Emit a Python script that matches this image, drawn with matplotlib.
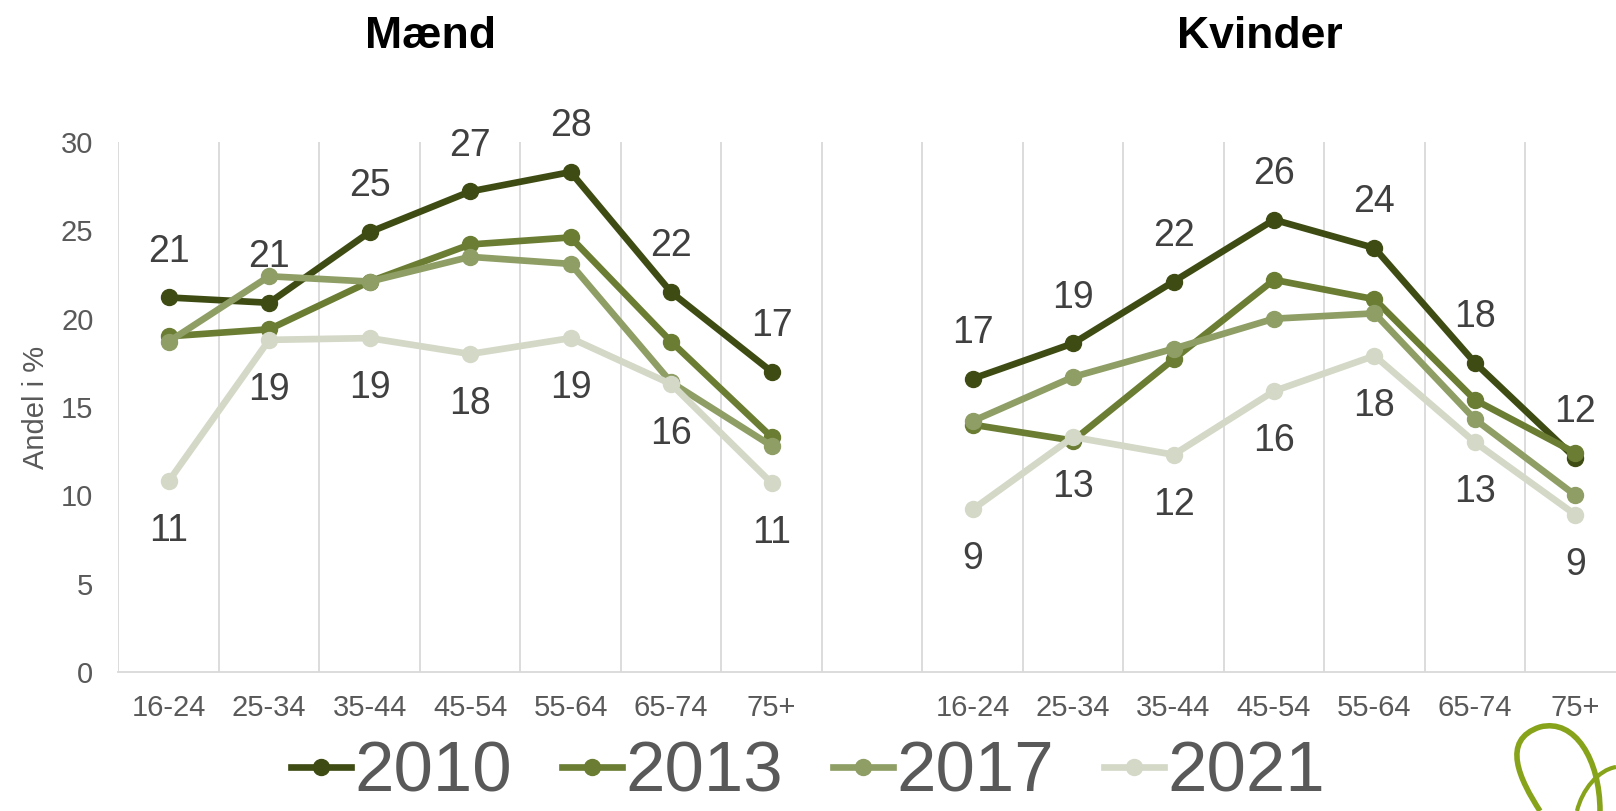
import matplotlib
matplotlib.use("Agg")
import matplotlib.pyplot as plt
from matplotlib.lines import Line2D
from matplotlib.patches import PathPatch
from matplotlib.path import Path
import numpy as np

plt.rcParams['font.family'] = ['Liberation Sans', 'DejaVu Sans']

age_groups = ['16-24', '25-34', '35-44', '45-54', '55-64', '65-74', '75+']
years = ['2010', '2013', '2017', '2021']
colors = ['#3e4c14', '#6a7d32', '#8e9e65', '#d3d8c7']

maend = {
    '2010': [21.2, 20.9, 24.9, 27.2, 28.3, 21.5, 17.0],
    '2013': [19.0, 19.4, 22.1, 24.2, 24.6, 18.7, 13.3],
    '2017': [18.7, 22.4, 22.1, 23.5, 23.1, 16.4, 12.8],
    '2021': [10.8, 18.8, 18.9, 18.0, 18.9, 16.3, 10.7],
}
kvinder = {
    '2010': [16.6, 18.6, 22.1, 25.6, 24.0, 17.5, 12.1],
    '2013': [14.0, 13.1, 17.7, 22.2, 21.1, 15.4, 12.4],
    '2017': [14.2, 16.7, 18.3, 20.0, 20.3, 14.3, 10.0],
    '2021': [9.2, 13.3, 12.3, 15.9, 17.9, 13.0, 8.9],
}
labelled_above = '2010'
labelled_below = '2021'

fig = plt.figure(figsize=(16.16, 8.11), dpi=100)
ax = fig.add_axes([0.0733, 0.1714, 0.9327, 0.6535])

n = len(age_groups)
x_m = np.arange(n)
x_k = np.arange(n) + n + 1

for year, col in zip(years, colors):
    for xs, data in ((x_m, maend), (x_k, kvinder)):
        ax.plot(xs, data[year], color=col, lw=4.8, marker='o', ms=11.5,
                solid_capstyle='round', zorder=3)

for xs, data in ((x_m, maend), (x_k, kvinder)):
    for x, v in zip(xs, data[labelled_above]):
        ax.annotate(f'{round(v):d}', (x, v), xytext=(0, 33), textcoords='offset points',
                    ha='center', va='center', fontsize=27, color='#404040')
    for x, v in zip(xs, data[labelled_below]):
        ax.annotate(f'{round(v):d}', (x, v), xytext=(0, -36), textcoords='offset points',
                    ha='center', va='center', fontsize=27, color='#404040')

ax.set_xlim(-0.5, 2 * n + 0.5)
ax.set_ylim(0, 30)
ax.set_yticks(range(0, 31, 5))
ax.set_xticks(list(x_m) + list(x_k))
ax.set_xticklabels(age_groups + age_groups)
ax.set_xticks(np.arange(-0.5, 2 * n + 1, 1), minor=True)
ax.grid(True, which='minor', axis='x', color='#d9d9d9', lw=1.3)
ax.tick_params(axis='both', which='both', length=0, colors='#595959', labelsize=21)
ax.tick_params(axis='x', pad=16)
ax.tick_params(axis='y', pad=18)
for s in ['top', 'right', 'left']:
    ax.spines[s].set_visible(False)
ax.spines['bottom'].set_color('#d9d9d9')
ax.spines['bottom'].set_linewidth(1.3)
ax.set_ylabel('Andel i %', fontsize=21, color='#595959', labelpad=8)

fig.text(431 / 1616, 1 - 36 / 811, 'Mænd', ha='center', va='center', fontsize=32,
         fontweight='bold')
fig.text(1260 / 1616, 1 - 36 / 811, 'Kvinder', ha='center', va='center', fontsize=32,
         fontweight='bold')

handles = [Line2D([], [], color=c, lw=4.8, marker='o', ms=11.5) for c in colors]
leg = fig.legend(handles, years, loc='center', bbox_to_anchor=(0.5, 0.046), ncol=4,
                 frameon=False, handlelength=0.85, handletextpad=0.05, columnspacing=0.7,
                 borderpad=0, prop={'size': 51})
for t in leg.get_texts():
    t.set_color('#595959')

# logo swirl in the corner
verts = [(1540, 811), (1520, 780), (1500, 740), (1540, 727),
         (1575, 718), (1600, 760), (1600, 811)]
codes = [Path.MOVETO, Path.CURVE4, Path.CURVE4, Path.CURVE4, Path.CURVE4, Path.CURVE4, Path.CURVE4]
path = Path([(x / 1616, 1 - y / 811) for x, y in verts], codes)
fig.patches.append(PathPatch(path, fill=False, edgecolor='#86a31a', lw=4,
                             transform=fig.transFigure))
verts2 = [(1577, 811), (1582, 790), (1598, 770), (1616, 767)]
path2 = Path([(x / 1616, 1 - y / 811) for x, y in verts2],
             [Path.MOVETO, Path.CURVE4, Path.CURVE4, Path.CURVE4])
fig.patches.append(PathPatch(path2, fill=False, edgecolor='#86a31a', lw=3,
                             transform=fig.transFigure))

fig.savefig('out.png', dpi=100)
